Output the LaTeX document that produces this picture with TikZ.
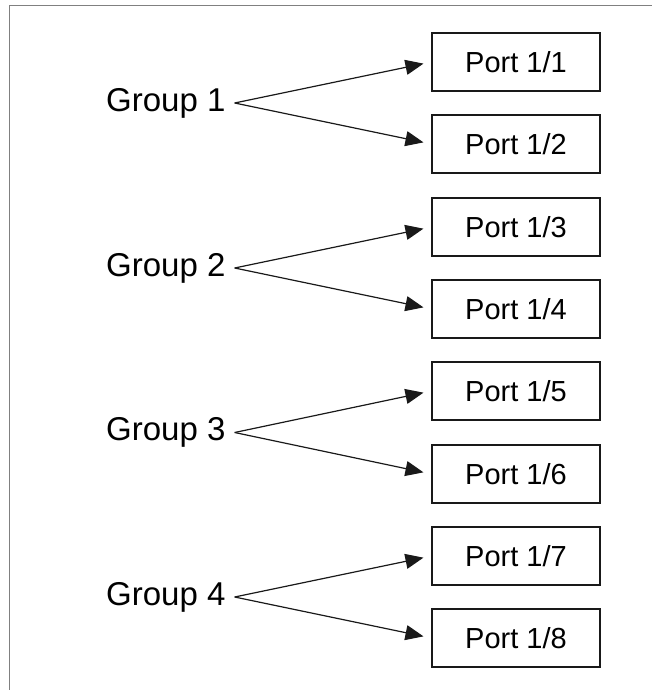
\documentclass[tikz,border=0pt]{standalone}
\usepackage{fontspec}
\setmainfont{Liberation Sans}
\usetikzlibrary{arrows.meta}
\begin{document}
\begin{tikzpicture}[x=1pt,y=-1pt,
  portbox/.style={draw=black!90,line width=1.4pt,minimum width=168pt,minimum height=58pt,inner sep=0pt,font=\fontsize{29}{31}\selectfont},
  grouplabel/.style={inner xsep=9pt,inner ysep=0pt,anchor=west,font=\fontsize{33}{35}\selectfont},
  link/.style={line width=1.2pt,black!90,-{Triangle[length=18pt,width=15pt]},shorten >=8pt}]
\useasboundingbox (0,0) rectangle (652,690);
\draw[line width=1.6pt,black!50] (9.5,690) -- (9.5,5.5) -- (652,5.5);
\foreach \i/\y in {1/62,2/144,3/227,4/309,5/391,6/474,7/556,8/638}{
  \node[portbox] (p\i) at (516,\y) {Port 1/\i};
}
\foreach \g/\y/\a/\b in {1/103/1/2,2/268/3/4,3/432.5/5/6,4/597/7/8}{
  \node[grouplabel] (g\g) at (97,\y) {Group \g};
  \draw[link] (g\g.east) -- (p\a.west);
  \draw[link] (g\g.east) -- (p\b.west);
}
\end{tikzpicture}
\end{document}
